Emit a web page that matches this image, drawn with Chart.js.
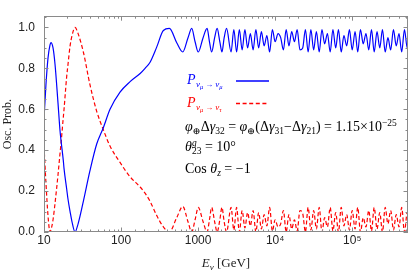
<!DOCTYPE html>
<html>
<head>
<meta charset="utf-8">
<script src="https://cdn.jsdelivr.net/npm/chart.js@4"></script>
<style>
html, body { margin: 0; padding: 0; background: #fff; }
#wrap { width: 413px; height: 275px; position: relative; }
</style>
</head>
<body>
<div id="wrap"><canvas id="graph"></canvas></div>
<script>
// neutrino energy in GeV
const energy = [
  10, 10.6, 11.27, 11.97, 12.3, 13.1, 13.9, 15.2, 16.1, 16.6,
  17.8, 18.2, 19.7, 20.5, 21.8, 23.1, 25.3, 27.7, 32.4, 39.5,
  48.3, 58.9, 71.9, 97, 131, 177, 205, 238, 291, 354,
  424, 528, 632, 740, 826, 914, 1005, 1161, 1309, 1405,
  1500, 1640, 1766, 1915, 2040, 2180, 2340,
  2680, 2910, 3160, 3430, 3730, 4050, 4390, 4770, 5180, 5620,
  6110, 6630, 7200, 7810, 8480, 9210, 1e4, 1.09e4, 1.18e4, 1.28e4,
  1.39e4, 1.51e4, 1.64e4, 1.78e4, 1.93e4, 2.10e4, 2.28e4, 2.47e4, 2.68e4, 2.91e4,
  3.16e4, 3.43e4, 3.73e4, 4.05e4, 4.39e4, 4.77e4, 5.18e4, 5.62e4, 6.11e4, 6.63e4,
  7.20e4, 7.81e4, 8.48e4, 9.21e4, 1e5, 1.09e5, 1.18e5, 1.28e5, 1.39e5, 1.51e5,
  1.64e5, 1.78e5, 1.93e5, 2.10e5, 2.28e5, 2.47e5, 2.68e5, 2.91e5, 3.16e5, 3.43e5,
  3.73e5, 4.05e5, 4.39e5, 4.77e5, 5.18e5, 5.62e5
];

// P(nu_mu -> nu_mu)
const pMuMu = [
  0.55, 0.72, 0.85, 0.915, 0.926, 0.90, 0.82, 0.63, 0.50, 0.45,
  0.35, 0.31, 0.21, 0.16, 0.10, 0.05, 0.0, 0.04, 0.15, 0.30,
  0.43, 0.51, 0.60, 0.684, 0.735, 0.775, 0.80, 0.83, 0.905, 0.985,
  0.995, 0.925, 0.88, 0.95, 0.995, 0.93, 0.88, 0.95, 0.995, 0.93,
  0.88, 0.95, 0.995, 0.93, 0.88, 0.95, 0.995,
  0.88, 0.99, 0.88, 0.99, 0.89, 0.99, 0.90, 0.97, 0.89, 0.99,
  0.90, 0.98, 0.91, 0.96, 0.88, 0.99, 0.93, 0.97, 0.95, 0.89,
  0.99, 0.91, 0.98, 0.93, 0.99, 0.89, 0.90, 0.99, 0.88, 0.99,
  0.89, 0.98, 0.88, 0.99, 0.92, 0.97, 0.88, 0.99, 0.90, 0.99,
  0.88, 0.96, 0.91, 0.99, 0.89, 0.98, 0.88, 0.99, 0.92, 0.97,
  0.89, 0.99, 0.88, 0.98, 0.90, 0.99, 0.88, 0.95, 0.89, 0.99,
  0.91, 0.97, 0.88, 0.99, 0.90, 0.99
];

// P(nu_mu -> nu_tau)
const pMuTau = [
  0.42, 0.24, 0.08, 0.0, 0.01, 0.06, 0.14, 0.28, 0.38, 0.43,
  0.56, 0.60, 0.76, 0.82, 0.91, 0.96, 1.0, 0.97, 0.88, 0.72,
  0.59, 0.50, 0.42, 0.34, 0.27, 0.22, 0.19, 0.15, 0.08, 0.025,
  0.0, 0.07, 0.125, 0.05, 0.0, 0.06, 0.12, 0.05, 0.0, 0.06,
  0.12, 0.05, 0.0, 0.06, 0.12, 0.05, 0.0,
  0.12, 0.01, 0.12, 0.0, 0.105, 0.02, 0.095, 0.03, 0.105, 0.0,
  0.095, 0.015, 0.085, 0.03, 0.12, 0.005, 0.06, 0.025, 0.04, 0.105,
  0.0, 0.085, 0.015, 0.06, 0.005, 0.105, 0.09, 0.0, 0.12, 0.01,
  0.105, 0.015, 0.12, 0.0, 0.07, 0.025, 0.12, 0.005, 0.095, 0.0,
  0.12, 0.03, 0.085, 0.01, 0.105, 0.015, 0.12, 0.0, 0.07, 0.025,
  0.105, 0.005, 0.12, 0.015, 0.095, 0.0, 0.12, 0.04, 0.105, 0.01,
  0.085, 0.025, 0.12, 0.0, 0.095, 0.01
];

const xTickValues = [10, 100, 1000, 1e4, 1e5];
const xTickLabels = ['10', '100', '1000', '10⁴', '10⁵'];
const yTickValues = [0, 0.2, 0.4, 0.6, 0.8, 1.0];
const yTickLabels = ['0.0', '0.2', '0.4', '0.6', '0.8', '1.0'];

const SERIF = '"Liberation Serif", "DejaVu Serif", serif';
const F = (size, italic) => (italic ? 'italic ' : '') + size + 'px ' + SERIF;

// draws a row of text pieces (sub/superscripts via dy), returns end x
function drawRuns(ctx, x, y, runs, color, measureOnly) {
  ctx.textAlign = 'left';
  ctx.textBaseline = 'alphabetic';
  ctx.fillStyle = color;
  runs.forEach(r => {
    if (r.stack) {
      let w = 0;
      r.stack.forEach(s => {
        ctx.font = s.f;
        if (!measureOnly) ctx.fillText(s.t, x, y + (s.dy || 0));
        w = Math.max(w, ctx.measureText(s.t).width);
      });
      x += w;
    } else {
      ctx.font = r.f;
      x += r.dx || 0;
      if (!measureOnly) ctx.fillText(r.t, x, y + (r.dy || 0));
      x += ctx.measureText(r.t).width;
    }
  });
  return x;
}

const frameAndText = {
  id: 'frameAndText',
  afterDraw(chart) {
    const ctx = chart.ctx;
    const ca = chart.chartArea;
    const xs = chart.scales.x, ys = chart.scales.y;
    ctx.save();

    // frame
    ctx.strokeStyle = '#8a8a8a';
    ctx.lineWidth = 1;
    ctx.strokeRect(Math.round(ca.left) + 0.5, Math.round(ca.top) + 0.5,
      Math.round(ca.right - ca.left) - 1, Math.round(ca.bottom - ca.top) - 1);

    // inward ticks
    ctx.beginPath();
    xs.ticks.forEach(t => {
      const major = xTickValues.some(v => Math.abs(t.value - v) < v * 1e-6);
      const len = major ? 4.5 : 2.5;
      const px = Math.round(xs.getPixelForValue(t.value)) + 0.5;
      if (px < ca.left || px > ca.right) return;
      ctx.moveTo(px, ca.bottom); ctx.lineTo(px, ca.bottom - len);
      ctx.moveTo(px, ca.top); ctx.lineTo(px, ca.top + len);
    });
    for (let k = 0; k <= 21; k++) {
      const len = k % 4 === 0 ? 4.5 : 2.5;
      const py = Math.round(ys.getPixelForValue(k * 0.05)) + 0.5;
      ctx.moveTo(ca.left, py); ctx.lineTo(ca.left + len, py);
      ctx.moveTo(ca.right, py); ctx.lineTo(ca.right - len, py);
    }
    ctx.stroke();

    // legend
    const legendRuns = last => [
      { t: 'P', f: F(14, true) },
      { t: 'ν', f: F(9, true), dy: 3, dx: 0.5 },
      { t: 'μ', f: F(6.5, true), dy: 5 },
      { t: ' → ', f: F(8), dy: 3 },
      { t: 'ν', f: F(9, true), dy: 3 },
      { t: last, f: F(6.5, true), dy: 5 }
    ];
    drawRuns(ctx, 187, 84, legendRuns('μ'), '#0000ff');
    drawRuns(ctx, 187, 107, legendRuns('τ'), '#ff0000');

    ctx.lineWidth = 1.3;
    ctx.strokeStyle = '#0000ff';
    ctx.beginPath(); ctx.moveTo(236, 81); ctx.lineTo(269, 81); ctx.stroke();
    ctx.strokeStyle = '#ff0000';
    ctx.setLineDash([4, 2.6]);
    ctx.beginPath(); ctx.moveTo(236, 103.5); ctx.lineTo(269, 103.5); ctx.stroke();
    ctx.setLineDash([]);

    // annotations
    const sub = (t, it) => ({ t: t, f: F(9.5, it), dy: 3 });
    drawRuns(ctx, 185, 131, [
      { t: 'φ', f: F(14, true) }, sub('⊕'), { t: 'Δ', f: F(14) }, { t: 'γ', f: F(14, true) }, sub('32'),
      { t: ' = ', f: F(14) },
      { t: 'φ', f: F(14, true) }, sub('⊕'), { t: '(Δ', f: F(14) }, { t: 'γ', f: F(14, true) }, sub('31'),
      { t: '−Δ', f: F(14) }, { t: 'γ', f: F(14, true) }, sub('21'),
      { t: ') = 1.15×10', f: F(14) }, { t: '−25', f: F(9.5), dy: -5.5 }
    ], '#000');
    drawRuns(ctx, 185, 151, [
      { t: 'θ', f: F(14, true) },
      { stack: [{ t: 'g', f: F(9.5, true), dy: -5.5 }, { t: '23', f: F(9.5), dy: 3 }] },
      { t: ' = 10°', f: F(14) }
    ], '#000');
    drawRuns(ctx, 185, 173, [
      { t: 'Cos ', f: F(14) }, { t: 'θ', f: F(14, true) }, sub('z', true), { t: ' = −1', f: F(14) }
    ], '#000');

    // x axis title
    const xt = [{ t: 'E', f: F(13, true) }, { t: 'ν', f: F(9, true), dy: 3 }, { t: ' [GeV]', f: F(13) }];
    const w = drawRuns(ctx, 0, 0, xt, '#222', true);
    drawRuns(ctx, (ca.left + ca.right) / 2 - w / 2, 267, xt, '#222');

    ctx.restore();
  }
};

const toPoints = vals => energy.map((e, i) => ({ x: e, y: vals[i] }));

new Chart(document.getElementById('graph'), {
  type: 'line',
  data: {
    datasets: [
      {
        label: 'P mu mu',
        data: toPoints(pMuMu),
        borderColor: '#0000ff',
        borderWidth: 1.2,
        pointRadius: 0,
        cubicInterpolationMode: 'monotone',
        fill: false
      },
      {
        label: 'P mu tau',
        data: toPoints(pMuTau),
        borderColor: '#ff0000',
        borderWidth: 1.2,
        borderDash: [4, 2.5],
        pointRadius: 0,
        cubicInterpolationMode: 'monotone',
        fill: false
      }
    ]
  },
  options: {
    responsive: true,
    maintainAspectRatio: false,
    animation: false,
    layout: { padding: { left: 0, top: 5, right: 5, bottom: 0 } },
    plugins: { legend: { display: false }, tooltip: { enabled: false } },
    scales: {
      x: {
        type: 'logarithmic',
        min: 10,
        max: 5.3e5,
        grid: { display: false, drawTicks: false },
        border: { display: false },
        ticks: {
          autoSkip: false,
          maxRotation: 0,
          padding: 1,
          color: '#222',
          font: { family: '"Liberation Sans", Arial, sans-serif', size: 12 },
          callback: v => {
            const i = xTickValues.findIndex(t => Math.abs(v - t) < t * 1e-6);
            return i < 0 ? '' : xTickLabels[i];
          }
        },
        afterFit: s => { s.height = 43; }
      },
      y: {
        min: 0,
        max: 1.055,
        grid: { display: false, drawTicks: false },
        border: { display: false },
        ticks: {
          stepSize: 0.2,
          includeBounds: false,
          padding: 9,
          color: '#222',
          font: { family: '"Liberation Sans", Arial, sans-serif', size: 12 },
          callback: v => {
            const i = yTickValues.findIndex(t => Math.abs(v - t) < 1e-6);
            return i < 0 ? '' : yTickLabels[i];
          }
        },
        title: {
          display: true,
          text: 'Osc. Prob.',
          color: '#222',
          font: { family: SERIF, size: 12 },
          padding: { top: 1, bottom: 0 }
        },
        afterFit: s => { s.width = 44; }
      }
    }
  },
  plugins: [frameAndText]
});
</script>
</body>
</html>
